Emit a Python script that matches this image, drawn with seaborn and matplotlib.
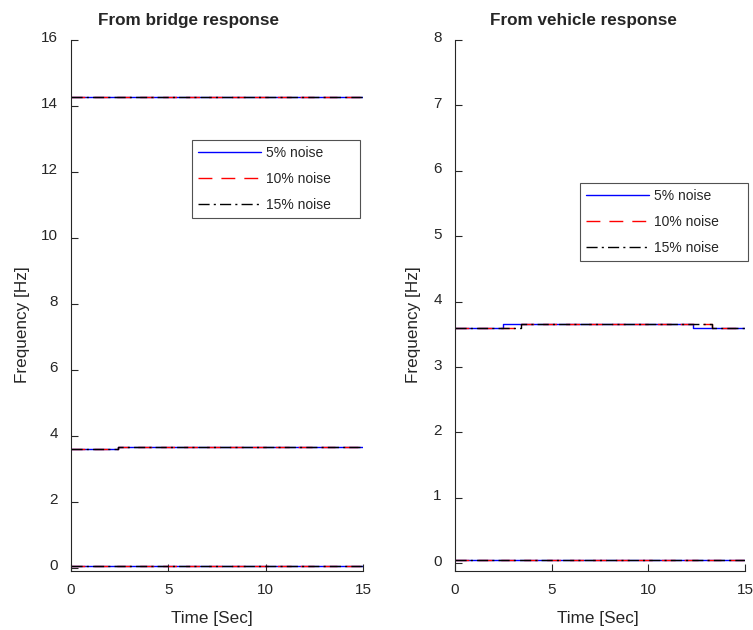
import matplotlib
matplotlib.use("Agg")
import matplotlib.pyplot as plt
import matplotlib.transforms as mtransforms
import seaborn as sns
import pandas as pd

sns.set_theme(style="white")
plt.rcParams['font.family'] = ['Liberation Sans', 'DejaVu Sans']

# ---- data ----
series = ["5% noise", "10% noise", "15% noise"]
colors = ["#0000ff", "#ff0000", "#000000"]
dashes = [(None, None), (10, 6.5), (8, 3, 1.5, 3)]

# bridge response: three identified frequencies (step-post values)
bridge_t = [0, 2.4, 15]
bridge_f1 = [0.05, 0.05, 0.05]
bridge_f2 = [3.60, 3.67, 3.67]
bridge_f3 = [14.27, 14.27, 14.27]

# vehicle response
veh_t_5 = [0, 2.5, 12.3, 15]
veh_f2_5 = [3.60, 3.66, 3.60, 3.60]
veh_t_10 = [0, 3.4, 13.3, 15]
veh_f2_10 = [3.60, 3.66, 3.60, 3.60]
veh_t_15 = [0, 3.4, 13.3, 15]
veh_f2_15 = [3.60, 3.66, 3.60, 3.60]
veh_t_low = [0, 15]
veh_f1 = [0.05, 0.05]

W, H = 753, 630
fig = plt.figure(figsize=(7.53, 6.3), dpi=100)
top, bot = 40, 570.5
axL = fig.add_axes([71/W, 1-bot/H, 292/W, (bot-top)/H])
axR = fig.add_axes([455/W, 1-bot/H, 290/W, (bot-top)/H])

def draw(ax, t, f, i, label=None):
    df = pd.DataFrame({"t": t, "f": f})
    ls = '-' if i == 0 else (0, dashes[i])
    sns.lineplot(data=df, x="t", y="f", ax=ax, color=colors[i], lw=1.0,
                 drawstyle="steps-post", linestyle=ls, estimator=None,
                 sort=False, label=label, legend=False)

for i in range(3):
    for k, f in enumerate([bridge_f1, bridge_f2, bridge_f3]):
        draw(axL, bridge_t, f, i, label=series[i] if k == 0 else None)

vt = [veh_t_5, veh_t_10, veh_t_15]
vf = [veh_f2_5, veh_f2_10, veh_f2_15]
for i in range(3):
    draw(axR, veh_t_low, veh_f1, i, label=series[i])
    draw(axR, vt[i], vf[i], i)

axL.set_ylim(-0.09, 16)
axL.set_yticks(range(0, 17, 2))
axR.set_ylim(-0.11, 8)
axR.set_yticks(range(0, 9, 1))

shift = mtransforms.ScaledTranslation(0, 3/100, fig.dpi_scale_trans)
for ax in (axL, axR):
    ax.set_xlim(0, 15)
    ax.set_xticks([0, 5, 10, 15])
    for s in ("top", "right"):
        ax.spines[s].set_visible(False)
    for s in ("left", "bottom"):
        ax.spines[s].set_color("#262626")
        ax.spines[s].set_linewidth(0.8)
    ax.tick_params(direction="in", length=5, width=0.8, colors="#262626",
                   labelsize=11, left=True, bottom=True)
    ax.tick_params(axis="x", pad=9)
    ax.tick_params(axis="y", pad=9.5)
    ax.set_xlabel("Time [Sec]", fontsize=12.3, color="#262626")
    ax.set_ylabel("Frequency [Hz]", fontsize=12.3, color="#262626")
    ax.grid(False)
    for lab in ax.get_yticklabels():
        lab.set_transform(lab.get_transform() + shift)

axL.xaxis.set_label_coords((212-71)/292, (bot-611)/(bot-top))
axR.xaxis.set_label_coords((598-455)/290, (bot-611)/(bot-top))
axL.yaxis.set_label_coords((30-71)/292, (bot-325)/(bot-top))
axR.yaxis.set_label_coords((421-455)/290, (bot-325)/(bot-top))

axL.text((188-71)/292, (bot-20)/(bot-top), "From bridge response",
         transform=axL.transAxes, ha="center", va="center",
         fontsize=12.3, fontweight="bold")
axR.text((583-455)/290, (bot-20)/(bot-top), "From vehicle response",
         transform=axR.transAxes, ha="center", va="center",
         fontsize=12.3, fontweight="bold")

for ax, (x0, y0, x1, y1) in ((axL, (192, 140, 360, 220)),
                             (axR, (580, 183, 748, 265))):
    leg = ax.legend(loc="upper left",
                    bbox_to_anchor=(x0/W, 1-y1/H, (x1-x0)/W, (y1-y0)/H),
                    bbox_transform=fig.transFigure, mode="expand",
                    fontsize=10, handlelength=4.5, frameon=True,
                    fancybox=False, borderpad=0.45, labelspacing=0.85,
                    handletextpad=0.35, borderaxespad=0)
    leg.get_frame().set_edgecolor("#262626")
    leg.get_frame().set_linewidth(0.8)

fig.savefig("out.png", dpi=100, facecolor="white")
